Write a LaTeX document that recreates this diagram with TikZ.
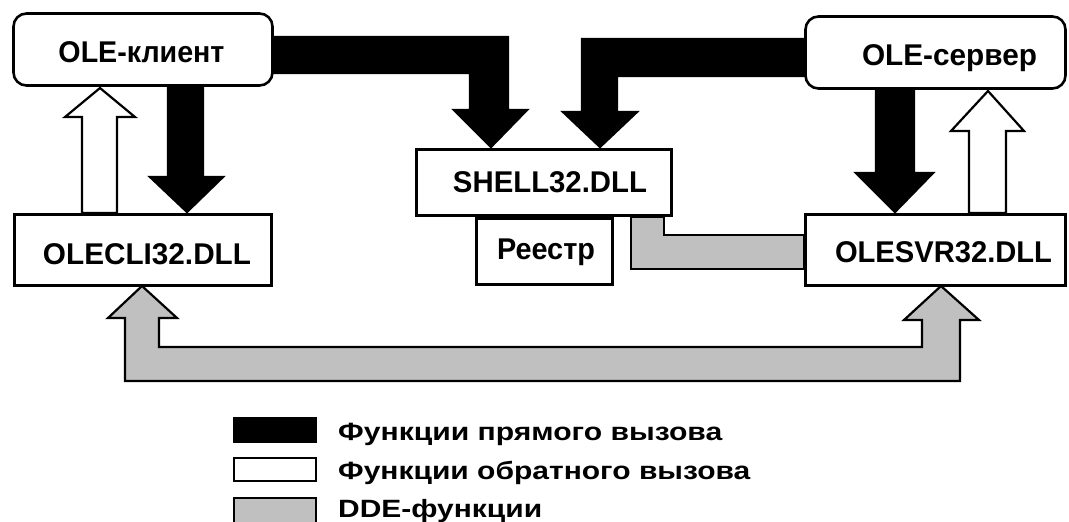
\documentclass[tikz,border=0pt]{standalone}
\usepackage{fontspec}
\setmainfont{Liberation Sans}
\usepackage{graphicx}
\definecolor{ddegray}{HTML}{C0C0C0}
\begin{document}
\begin{tikzpicture}[x=1pt,y=-1pt,
  box/.style={draw, line width=2.6pt, fill=white, inner sep=0pt},
  rbox/.style={box, rounded corners=13pt},
  blk/.style={draw, line width=2.2pt, fill=black},
  wht/.style={draw, line width=2.2pt, fill=white},
  gry/.style={draw, line width=2.2pt, fill=ddegray},
  lbl/.style={font=\fontsize{30}{32}\selectfont\bfseries, inner sep=0pt, anchor=base},
  leg/.style={font=\fontsize{25}{27}\selectfont\bfseries, inner sep=0pt, anchor=base west}]
\useasboundingbox (0,0) rectangle (1069,522);

% ---- block arrows ----
% OLE-client -> SHELL32
\draw[blk] (491,147) -- (527,110) -- (508,110) -- (508,37) -- (274,37) -- (274,73)
  -- (470,73) -- (470,110) -- (454,110) -- cycle;
% OLE-server -> SHELL32
\draw[blk] (600,147) -- (637,112) -- (617,112) -- (617,76) -- (804,76) -- (804,39)
  -- (582,39) -- (582,112) -- (563,112) -- cycle;
% OLE-client -> OLECLI32
\draw[blk] (187,212) -- (223,177) -- (203,177) -- (203,87) -- (168,87) -- (168,177)
  -- (150,177) -- cycle;
% OLECLI32 -> OLE-client (callback)
\draw[wht] (100,88) -- (135,117) -- (117,117) -- (117,213) -- (82,213) -- (82,117)
  -- (65,117) -- cycle;
% OLE-server -> OLESVR32
\draw[blk] (895,212) -- (933,173) -- (914,173) -- (914,90) -- (876,90) -- (876,173)
  -- (856,173) -- cycle;
% OLESVR32 -> OLE-server (callback)
\draw[wht] (988,91) -- (1024,131) -- (1006,131) -- (1006,213) -- (969,213) -- (969,131)
  -- (951,131) -- cycle;
% SHELL32 -- OLESVR32 (DDE)
\draw[gry] (631,217) -- (631,269) -- (804,269) -- (804,235) -- (664,235) -- (664,217) -- cycle;
% OLECLI32 <-> OLESVR32 (DDE)
\draw[gry] (142,286) -- (177,318) -- (159,318) -- (159,347) -- (922,347) -- (922,320)
  -- (904,320) -- (941,286) -- (979,320) -- (960,320) -- (960,381) -- (125,381)
  -- (125,318) -- (108,318) -- cycle;

% ---- boxes ----
\node[rbox, minimum width=259pt, minimum height=72pt] (client) at (143,49.5) {};
\node[rbox, minimum width=260pt, minimum height=72pt] (server) at (935.5,52.5) {};
\node[box, minimum width=257pt, minimum height=71pt] (olecli) at (143,250) {};
\node[box, minimum width=260pt, minimum height=71pt] (olesvr) at (935.5,250) {};
\node[box, minimum width=255pt, minimum height=66pt] (shell) at (544,182.5) {};
\node[box, minimum width=136pt, minimum height=66pt] (reg) at (544.5,251.5) {};

\node[lbl] (clientlbl) at (141.5,62) {\resizebox{166pt}{\height}{OLE-клиент}};
\node[lbl] (serverlbl) at (949.5,65) {\resizebox{175pt}{\height}{OLE-сервер}};
\node[lbl] (oleclilbl) at (147,264) {\resizebox{208pt}{\height}{OLECLI32.DLL}};
\node[lbl] (olesvrlbl) at (943.5,262) {\resizebox{217pt}{\height}{OLESVR32.DLL}};
\node[lbl] (shelllbl) at (550,192) {\resizebox{194pt}{\height}{SHELL32.DLL}};
\node[lbl] (reglbl) at (546,259) {\resizebox{98pt}{\height}{Реестр}};

% ---- legend ----
\node[draw, line width=2.4pt, fill=black, minimum width=82pt, minimum height=24pt, inner sep=0pt] (legblk) at (275,430) {};
\node[draw, line width=2.4pt, fill=white, minimum width=82pt, minimum height=23pt, inner sep=0pt] (legwht) at (275,469.5) {};
\node[draw, line width=2.4pt, fill=ddegray, minimum width=82pt, minimum height=28pt, inner sep=0pt] (leggry) at (275,512) {};
\node[leg] (t1) at (338,440) {\resizebox{384pt}{\height}{Функции прямого вызова}};
\node[leg] (t2) at (338,479) {\resizebox{412pt}{\height}{Функции обратного вызова}};
\node[leg] (t3) at (338,517) {\resizebox{204pt}{\height}{DDE-функции}};
\end{tikzpicture}
\end{document}
